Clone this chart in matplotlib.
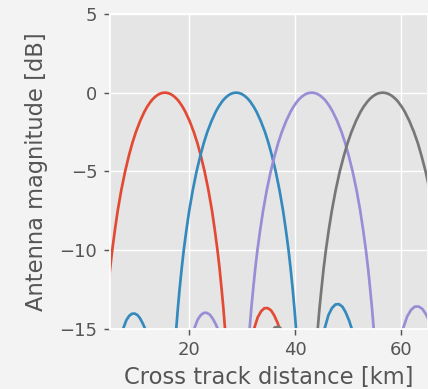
import numpy as np
import matplotlib
matplotlib.use("Agg")
import matplotlib.pyplot as plt

plt.style.use('ggplot')

nan = np.nan

# dB levels at which the main lobe positions were read (left flank, peak, right flank)
lobe_db_left = [-16.5, -15, -13.7, -12.5, -11.2, -10, -8.7, -7.5, -6.2, -5, -4.0, -3.2,
                -2.5, -1.8, -1.22, -0.9, -0.6, -0.45, -0.3, -0.18, -0.08, -0.02, 0]
lobe_db_right = lobe_db_left[-2::-1]
lobe_db = lobe_db_left + lobe_db_right

# sidelobe shapes (dB)
red_side_db = [-16.0, -15, -14.29, -13.91, -13.71, -13.7, -13.84, -14.14, -14.6, -15, -16.0]
blue_side1_db = [-16.0, -15, -14.48, -14.2, -14.06, -14.05, -14.15, -14.37, -14.71, -15, -16.0]
blue_side2_db = [-16.0, -15, -14.15, -13.7, -13.47, -13.45, -13.62, -13.98, -14.52, -15, -16.0]
purple_side1_db = [-16.0, -15, -14.45, -14.16, -14.01, -14.0, -14.11, -14.34, -14.69, -15, -16.0]
purple_side2_db = [-16.0, -15, -14.23, -13.82, -13.61, -13.6, -13.75, -14.08, -14.57, -15]
gray_side_db = [-15.15, -14.93, -14.9, -14.95, -15.2]

# cross track positions [km]
red_main_x = [3.69, 4.00, 4.31, 4.64, 5.02, 5.43, 5.94, 6.46, 7.13, 7.86, 8.57, 9.22,
              9.89, 10.69, 11.48, 12.01, 12.61, 12.97, 13.41, 13.84, 14.34, 14.85, 15.35,
              15.85, 16.36, 16.86, 17.29, 17.73, 18.09, 18.69, 19.22, 20.01, 20.81, 21.48,
              22.13, 22.84, 23.57, 24.24, 24.76, 25.27, 25.68, 26.06, 26.39, 26.70, 27.01]
red_side_x = [32.0, 32.2, 32.87, 33.5, 34.12, 34.74, 35.37, 35.94, 36.57, 37.0, 37.2]

blue_side1_x = [7.35, 7.5, 8.07, 8.61, 9.14, 9.67, 10.21, 10.7, 11.23, 11.6, 11.75]
blue_main_x = [17.19, 17.50, 17.81, 18.13, 18.52, 18.92, 19.43, 19.95, 20.62, 21.34, 22.05, 22.70,
               23.36, 24.16, 24.95, 25.48, 26.08, 26.43, 26.87, 27.30, 27.79, 28.30, 28.80,
               29.30, 29.81, 30.30, 30.73, 31.17, 31.52, 32.12, 32.65, 33.44, 34.24, 34.90,
               35.55, 36.26, 36.98, 37.65, 38.17, 38.68, 39.08, 39.47, 39.79, 40.10, 40.41]
blue_side2_x = [45.3, 45.5, 46.21, 46.88, 47.54, 48.2, 48.87, 49.48, 50.14, 50.6, 50.8]

purple_side1_x = [20.75, 20.9, 21.52, 22.09, 22.66, 23.23, 23.8, 24.33, 24.9, 25.3, 25.45]
purple_main_x = [31.03, 31.35, 31.67, 32.01, 32.40, 32.82, 33.35, 33.89, 34.58, 35.33, 36.07, 36.73,
                 37.42, 38.24, 39.06, 39.61, 40.23, 40.59, 41.05, 41.49, 42.01, 42.54, 43.05,
                 43.56, 44.09, 44.61, 45.05, 45.51, 45.87, 46.49, 47.04, 47.86, 48.68, 49.37,
                 50.03, 50.77, 51.52, 52.21, 52.75, 53.28, 53.70, 54.09, 54.43, 54.75, 55.07]
purple_side2_x = [60.1, 60.3, 61.07, 61.79, 62.5, 63.22, 63.93, 64.59, 65.3, 65.8]

gray_side_x = [35.6, 36.1, 36.6, 37.1, 37.6]
gray_main_x = [43.87, 44.20, 44.53, 44.89, 45.30, 45.74, 46.29, 46.86, 47.58, 48.36, 49.14, 49.83,
               50.56, 51.42, 52.27, 52.85, 53.50, 53.88, 54.36, 54.82, 55.36, 55.91, 56.45,
               56.99, 57.54, 58.08, 58.54, 59.02, 59.40, 60.05, 60.63, 61.48, 62.34, 63.07,
               63.76, 64.54, 65.32, 66.04, 66.61, 67.16]
gray_main_db = lobe_db[:len(gray_main_x)]


def join(*parts):
    # glue lobes together with nan gaps
    out = []
    for p in parts:
        if out:
            out.append(nan)
        out.extend(p)
    return out


fig = plt.figure(figsize=(428 / 130, 389 / 130), dpi=130, facecolor='#f3f3f3')
ax = fig.add_axes([0.257, 0.1555, 0.743, 0.8085])

ax.plot(join(red_main_x, red_side_x), join(lobe_db, red_side_db), color='#E24A33')
ax.plot(join(blue_side1_x, blue_main_x, blue_side2_x),
        join(blue_side1_db, lobe_db, blue_side2_db), color='#348ABD')
ax.plot(join(purple_side1_x, purple_main_x, purple_side2_x),
        join(purple_side1_db, lobe_db, purple_side2_db), color='#988ED5')
ax.plot(join(gray_side_x, gray_main_x), join(gray_side_db, gray_main_db), color='#777777')

ax.set_xlim(5.0, 65.0)
ax.set_ylim(-15, 5)
ax.set_xticks([20, 40, 60])
ax.set_yticks([-15, -10, -5, 0, 5])
ax.set_yticklabels(['\u221215', '\u221210', '\u22125', '0', '5'])
ax.set_xlabel('Cross track distance [km]', fontsize=12.5)
ax.set_ylabel('Antenna magnitude [dB]', fontsize=12.5, labelpad=6.5)

fig.savefig('out.png', dpi=130, facecolor=fig.get_facecolor())
